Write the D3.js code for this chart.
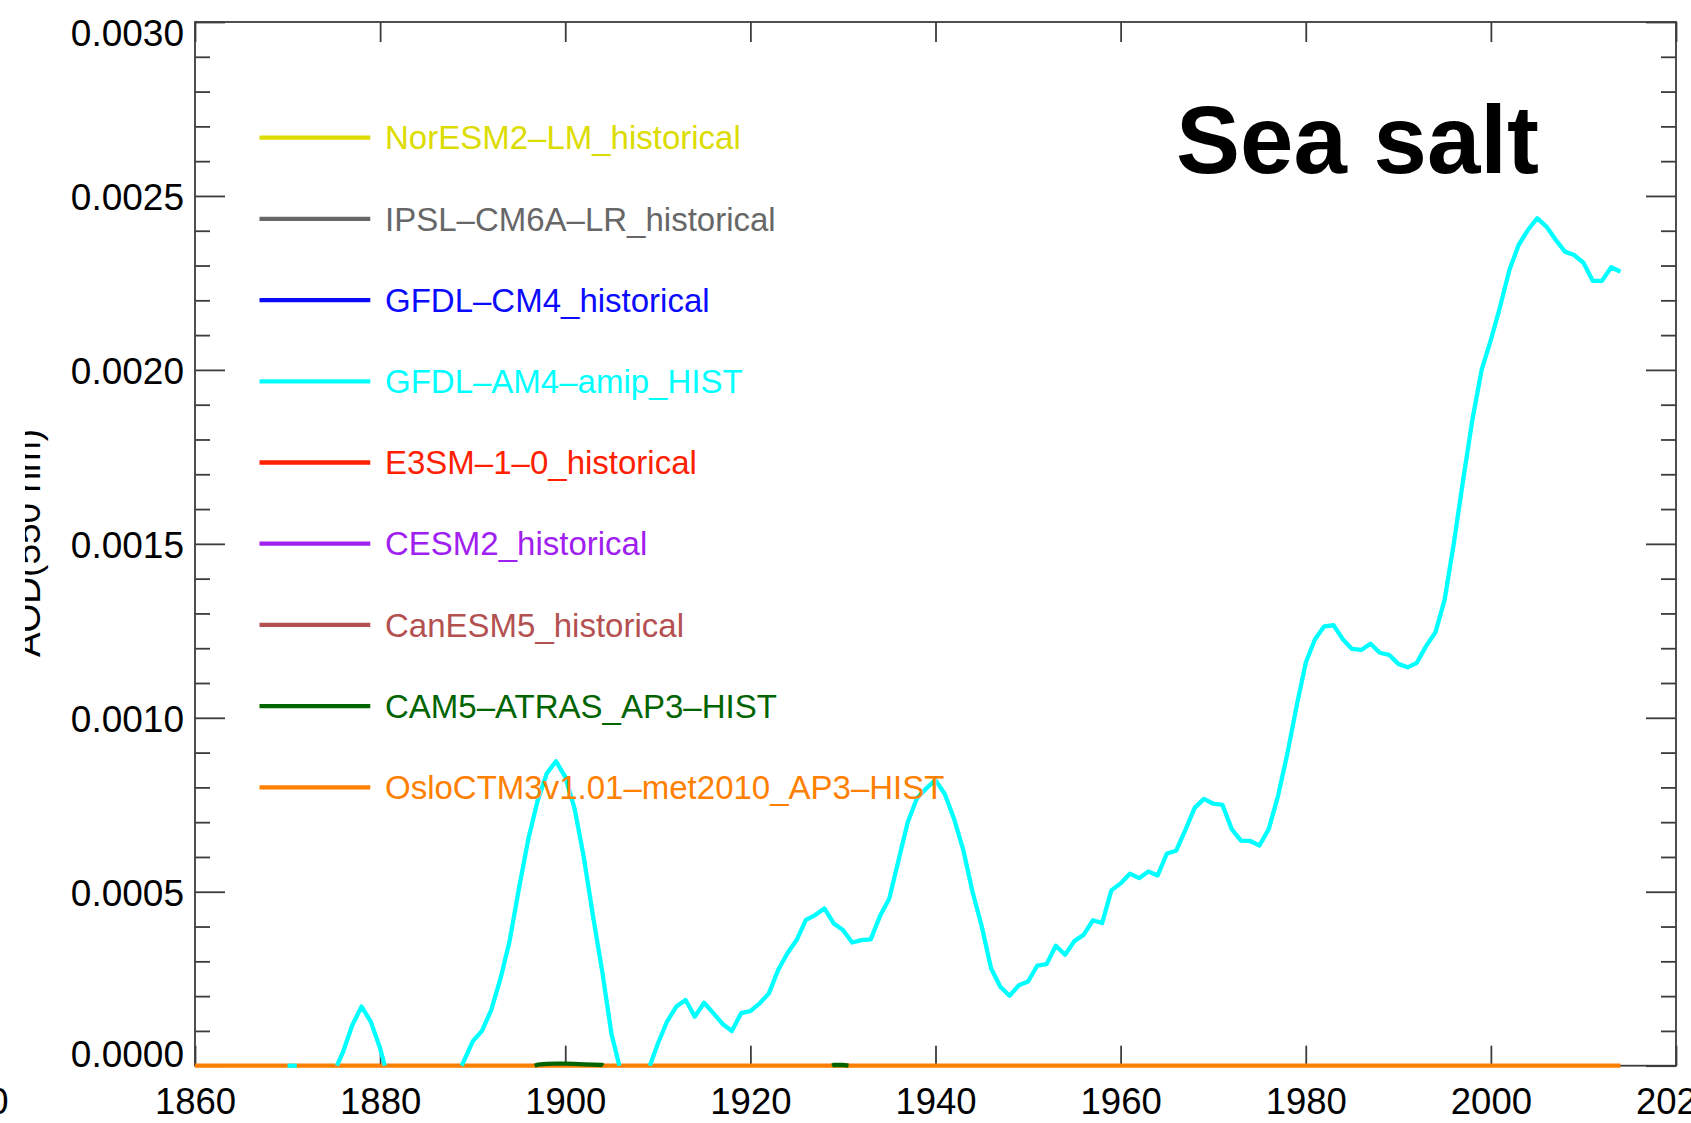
<!DOCTYPE html>
<html>
<head>
<meta charset="utf-8">
<title>Sea salt AOD</title>
<script src="https://cdn.jsdelivr.net/npm/d3@7"></script>
<style>
  html, body { margin: 0; padding: 0; background: #fff; }
  svg { display: block; }
  text { font-family: "Liberation Sans", Arial, Helvetica, sans-serif; }
</style>
</head>
<body>
<svg id="chart" width="1691" height="1123"></svg>
<script>
// ---- data -------------------------------------------------------------
const models = [
  "NorESM2-LM_historical",
  "IPSL-CM6A-LR_historical",
  "GFDL-CM4_historical",
  "GFDL-AM4-amip_HIST",
  "E3SM-1-0_historical",
  "CESM2_historical",
  "CanESM5_historical",
  "CAM5-ATRAS_AP3-HIST",
  "OsloCTM3v1.01-met2010_AP3-HIST"
];
const modelColors = [
  "#dcdc00", "#676767", "#0a0aff", "#00ffff", "#ff2000",
  "#a020f0", "#b45050", "#006400", "#ff7f00"
];

const xTicks = [1860, 1880, 1900, 1920, 1940, 1960, 1980, 2000, 2020];
const yTicks = [0, 0.0005, 0.0010, 0.0015, 0.0020, 0.0025, 0.0030];

// GFDL-AM4-amip_HIST, annual sea-salt AOD(550 nm), 1869-2014
const am4Years = d3.range(1869, 2015);
const am4AOD = [
  -0.00005,
  0, 0, -0.00005, -0.0001, -0.00008, -0.00002, 0.00004, 0.000117, 0.00017, 0.000126,
  0.00005, -0.00005, -0.0001, -0.00012, -0.00012, -0.0001, -0.00009, -0.00007, -0.00004, 0.00001,
  0.00007, 0.0001, 0.00016, 0.00025, 0.00036, 0.00051, 0.00065, 0.00076, 0.00084, 0.000875,
  0.00083, 0.00074, 0.0006, 0.00043, 0.00027, 0.00009, -0.000016, -0.00008, -0.00006, -0.00001,
  0.000063, 0.000127, 0.00017, 0.000189, 0.000141, 0.000181, 0.000151, 0.00012, 0.0001, 0.000151,
  0.000157, 0.000179, 0.000208, 0.000275, 0.000323, 0.000361, 0.000419, 0.000433, 0.000452, 0.000409,
  0.00039, 0.000354, 0.000361, 0.000363, 0.00043, 0.00048, 0.00059, 0.0007, 0.000769, 0.000797,
  0.000821, 0.000781, 0.00071, 0.00062, 0.0005, 0.0004, 0.00028, 0.000227, 0.000201, 0.000231,
  0.000242, 0.000288, 0.000292, 0.000345, 0.000319, 0.000358, 0.000376, 0.000418, 0.00041, 0.000504,
  0.000524, 0.000552, 0.000539, 0.000558, 0.000547, 0.00061, 0.000618, 0.000678, 0.000741, 0.000767,
  0.000753, 0.00075, 0.00068, 0.000647, 0.000646, 0.000633, 0.00068, 0.000775, 0.000895, 0.001032,
  0.001158, 0.001226, 0.001263, 0.001266, 0.001226, 0.001198, 0.001195, 0.001213, 0.001187, 0.001181,
  0.001155, 0.001145, 0.001158, 0.001206, 0.001245, 0.001339, 0.001502, 0.001683, 0.001856, 0.002,
  0.002086, 0.002182, 0.002287, 0.002359, 0.002402, 0.002436, 0.002412, 0.002374, 0.00234, 0.00233,
  0.002308, 0.002256, 0.002256, 0.002295, 0.002282
];

// CAM5-ATRAS_AP3-HIST, the two short stretches that reach the axis
const atrasYears = [1896, 1897, 1898, 1899, 1900, 1901, 1902, 1903, 1904, 1905,
                    1928, 1929, 1930, 1931];
const atrasAOD = [-0.000007, 0.000003, 0.000005, 0.000006, 0.000006, 0.000005, 0.000004, 0.000003, 0.000002, -0.00002,
                  -0.00001, 0.000002, 0.000002, -0.0000013];

// OsloCTM3v1.01-met2010_AP3-HIST, flat at zero over 1860-2014
const osloYears = [1860, 2014];
const osloAOD = [0, 0];

// ---- layout -----------------------------------------------------------
const svg = d3.select("#chart");
const plotLeft = 195, plotRight = 1676, plotTop = 22, plotBottom = 1065.7;

const x = d3.scaleLinear().domain([1860, 2020]).range([plotLeft, plotRight]);
const y = d3.scaleLinear().domain([0, 0.003]).range([plotBottom, plotTop]);

const axisColor = "#3c3c3c";
const fmtY = d3.format(".4f");
const yMinor = d3.range(0, 31).map(i => i * 0.0001).filter(v => !yTicks.some(t => Math.abs(t - v) < 1e-9));

// frame
svg.append("rect")
  .attr("x", plotLeft).attr("y", plotTop)
  .attr("width", plotRight - plotLeft).attr("height", plotBottom - plotTop)
  .attr("fill", "none").attr("stroke", axisColor).attr("stroke-width", 1.8);

function styleAxis(g) {
  g.select(".domain").remove();
  g.selectAll(".tick line").attr("stroke", axisColor).attr("stroke-width", 1.8);
}

// left axis: major ticks with labels, minor ticks inward
const gLeft = svg.append("g").attr("transform", `translate(${plotLeft},0)`)
  .call(d3.axisLeft(y).tickValues(yTicks).tickSize(-30).tickFormat(fmtY));
styleAxis(gLeft);
gLeft.selectAll("text")
  .attr("x", -11).attr("dy", "0.36em")
  .attr("font-size", 37).attr("fill", "#000");
// keep the end labels inside the frame height
gLeft.selectAll(".tick").filter(d => d === 0.003).select("text").attr("dy", "0.63em");
gLeft.selectAll(".tick").filter(d => d === 0).select("text").attr("dy", "0.03em");

svg.append("g").attr("transform", `translate(${plotLeft},0)`)
  .call(d3.axisLeft(y).tickValues(yMinor).tickSize(-15).tickFormat(""))
  .call(styleAxis);

// right axis: ticks only
svg.append("g").attr("transform", `translate(${plotRight},0)`)
  .call(d3.axisRight(y).tickValues(yTicks).tickSize(-30).tickFormat(""))
  .call(styleAxis);
svg.append("g").attr("transform", `translate(${plotRight},0)`)
  .call(d3.axisRight(y).tickValues(yMinor).tickSize(-15).tickFormat(""))
  .call(styleAxis);

// bottom axis with year labels
const gBottom = svg.append("g").attr("transform", `translate(0,${plotBottom})`)
  .call(d3.axisBottom(x).tickValues(xTicks).tickSize(-20).tickFormat(d3.format("d")));
styleAxis(gBottom);
gBottom.selectAll("text")
  .attr("y", 48.4).attr("dy", null)
  .attr("font-size", 36.5).attr("fill", "#000");

// top axis: ticks only
svg.append("g").attr("transform", `translate(0,${plotTop})`)
  .call(d3.axisTop(x).tickValues(xTicks).tickSize(-20).tickFormat(""))
  .call(styleAxis);

// neighbouring panel's year label, running off the lower-left edge
svg.append("text")
  .attr("x", 8.5).attr("y", plotBottom + 48.4)
  .attr("text-anchor", "end").attr("font-size", 36.5).attr("fill", "#000")
  .text("2020");

// y-axis title, trimmed at the page edge
svg.append("clipPath").attr("id", "ytitle-clip")
  .append("rect").attr("x", 25).attr("y", 0).attr("width", 100).attr("height", 1123);
svg.append("g").attr("clip-path", "url(#ytitle-clip)")
  .append("text")
  .attr("transform", "translate(40,543) rotate(-90)")
  .attr("text-anchor", "middle").attr("font-size", 37).attr("fill", "#000")
  .text("AOD(550 nm)");

// ---- series -----------------------------------------------------------
// split a series into the stretches that lie at or above the floor,
// cutting each crossing segment where it meets the floor; steps wider
// than maxStep are treated as breaks in the record
function visibleRuns(years, vals, floor, maxStep) {
  const runs = [];
  let cur = null;
  for (let i = 0; i < years.length; i++) {
    const v = vals[i], inside = v >= floor;
    if (i > 0 && years[i] - years[i - 1] <= maxStep) {
      const pv = vals[i - 1], pin = pv >= floor;
      if (pin !== inside) {
        const t = (floor - pv) / (v - pv);
        const xc = years[i - 1] + t * (years[i] - years[i - 1]);
        if (pin) { if (cur) { cur.push([xc, floor]); runs.push(cur); } cur = null; }
        else { cur = [[xc, floor]]; }
      }
    } else if (i > 0 && cur) {
      runs.push(cur); cur = null;
    }
    if (inside) { if (!cur) cur = []; cur.push([years[i], v]); }
  }
  if (cur) runs.push(cur);
  return runs;
}

const line = d3.line().x(d => x(d[0])).y(d => y(d[1]));

function drawSeries(years, vals, color, maxStep = Infinity) {
  svg.append("g").selectAll("path")
    .data(visibleRuns(years, vals, 0, maxStep))
    .join("path")
    .attr("d", line)
    .attr("fill", "none")
    .attr("stroke", color)
    .attr("stroke-width", 4.3)
    .attr("stroke-linejoin", "round");
}

drawSeries(osloYears, osloAOD, modelColors[8]);
drawSeries(atrasYears, atrasAOD, modelColors[7], 1);
drawSeries(am4Years, am4AOD, modelColors[3], 1);

// ---- legend -----------------------------------------------------------
const legend = svg.append("g");
const rowY = i => 137.7 + i * 81.2;
models.forEach((name, i) => {
  legend.append("line")
    .attr("x1", 259.5).attr("x2", 370.3)
    .attr("y1", rowY(i)).attr("y2", rowY(i))
    .attr("stroke", modelColors[i]).attr("stroke-width", 4.3);
  legend.append("text")
    .attr("x", 385).attr("y", rowY(i) + 11.6)
    .attr("font-size", 33).attr("fill", modelColors[i])
    .text(name.replace(/-/g, "\u2013"));
});

// ---- title ------------------------------------------------------------
svg.append("text")
  .attr("x", 1176).attr("y", 173)
  .attr("font-size", 96).attr("font-weight", "bold").attr("fill", "#000")
  .text("Sea salt");
</script>
</body>
</html>
